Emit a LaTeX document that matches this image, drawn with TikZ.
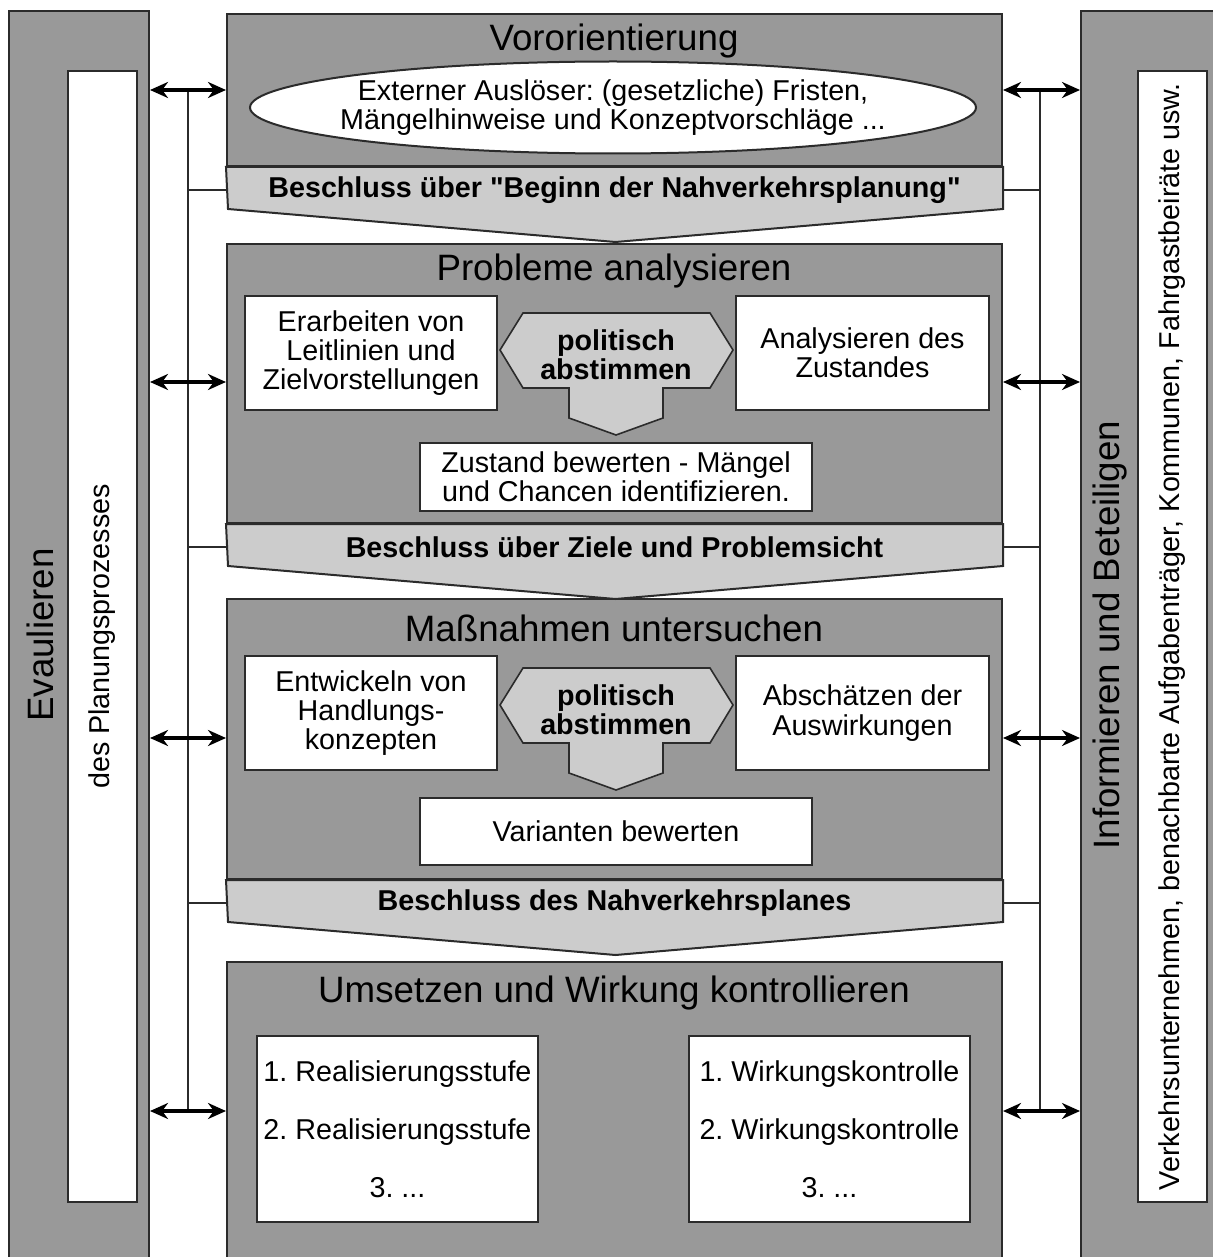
\documentclass[tikz,border=0pt]{standalone}
\usepackage{fontspec}
\setmainfont{Liberation Sans}
\usetikzlibrary{arrows.meta,shapes.geometric}
\definecolor{midgrey}{HTML}{999999}
\definecolor{lightgrey}{HTML}{CCCCCC}
\definecolor{edge}{HTML}{2B2B2B}
\frenchspacing

\begin{document}
\begin{tikzpicture}[x=0.5pt,y=-0.5pt,
  txt/.style={font=\fontsize{14.35}{14.6}\selectfont,align=center},
  bold/.style={font=\fontsize{14.35}{14.6}\selectfont\bfseries,align=center},
  head/.style={font=\fontsize{18.35}{20}\selectfont},
  bar/.style={draw=edge,line width=1pt,fill=midgrey,anchor=north west,inner sep=0pt},
  strip/.style={draw=edge,line width=1pt,fill=white,anchor=north west,inner sep=0pt},
  phase/.style={draw=edge,line width=1pt,fill=midgrey,anchor=north west,inner sep=0pt,minimum width=387.5pt},
  band/.style={draw=edge,line width=1pt,fill=lightgrey},
  box/.style={txt,draw=edge,line width=1pt,fill=white,inner sep=0pt},
  hexa/.style={draw=edge,line width=0.8pt,fill=lightgrey},
  link/.style={draw=edge,line width=1pt},
  dbl/.style={{Stealth[length=9pt,width=8pt]}-{Stealth[length=9pt,width=8pt]},line width=1.8pt,black}]
\useasboundingbox (0,0) rectangle (1213,1257);
\clip (0,0) rectangle (1213,1257);

\node[bar,minimum width=70pt,minimum height=640pt] (evalbar) at (8,10) {};
\node[strip,minimum width=34.5pt,minimum height=565.5pt] (evalstrip) at (67,70) {};
\node[head,rotate=90] (evaltitle) at (40,635) {Evaulieren};
\node[txt,rotate=90] (evaltext) at (evalstrip.center) {des Planungsprozesses};

\node[bar,minimum width=80pt,minimum height=640pt] (infobar) at (1080,10) {};
\node[strip,minimum width=34.5pt,minimum height=565.5pt] (infostrip) at (1137,70) {};
\node[head,rotate=90] (infotitle) at (1110,635) {Informieren und Beteiligen};
\node[txt,rotate=90] (infotext) at (infostrip.center)
  {Verkehrsunternehmen, benachbarte Aufgabenträger, Kommunen, Fahrgastbeiräte usw.};

\node[phase,minimum height=76pt] (vor) at (226,13) {};
\node[phase,minimum height=139.5pt] (prob) at (226,243) {};
\node[phase,minimum height=140pt] (mass) at (226,598) {};
\node[phase,minimum height=160pt] (ums) at (226,961) {};

\foreach \p/\n/\t in {vor/bes1/{Beschluss über \textquotedbl Beginn der Nahverkehrsplanung\textquotedbl},
    prob/bes2/{Beschluss über Ziele und Problemsicht},
    mass/bes3/{Beschluss des Nahverkehrsplanes}} {
  \draw[band] (\p.south west) -- (\p.south east) -- ++(0,42) -- ++(-387.5,33)
    -- ++(-387.5,-33) -- cycle;
  \node[bold] (\n) at ([yshift=-11.5pt]\p.south) {\t};
}

\node[head] (vortitle) at (614,41) {Vororientierung};
\node[head] (probtitle) at (614,271) {Probleme analysieren};
\node[head] (masstitle) at (614,628) {Maßnahmen untersuchen};
\node[head] (umstitle) at (614,993) {Umsetzen und Wirkung kontrollieren};

\node[ellipse,draw=edge,line width=1pt,fill=white,minimum width=363pt,
  minimum height=46pt,inner sep=0pt] (trig) at (613,107.5) {};
\node[txt] (trigtext) at (trig.center)
  {Externer Auslöser: (gesetzliche) Fristen,\\Mängelhinweise und Konzeptvorschläge ...};

\foreach \n/\y in {pola/350,polb/705} {
  \draw[hexa] (500,\y) -- (523,\y-37) -- (710,\y-37) -- (733,\y) -- (710,\y+38)
    -- (663,\y+38) -- (663,\y+68) -- (616,\y+85) -- (569,\y+68) -- (569,\y+38)
    -- (523,\y+38) -- cycle;
  \node[bold] (\n) at (616,\y+5) {politisch\\abstimmen};
}

\node[box,minimum width=126pt,minimum height=57pt] (leit) at (371,353)
  {Erarbeiten von\\Leitlinien und\\Zielvorstellungen};
\node[box,minimum width=126.5pt,minimum height=57pt] (zust) at (862.5,353)
  {Analysieren des\\Zustandes};
\node[box,minimum width=196pt,minimum height=34pt] (bewert) at (616,477)
  {Zustand bewerten - Mängel\\und Chancen identifizieren.};

\node[box,minimum width=126pt,minimum height=57pt] (hand) at (371,713)
  {Entwickeln von\\Handlungs-\\konzepten};
\node[box,minimum width=126.5pt,minimum height=57pt] (ausw) at (862.5,713)
  {Abschätzen der\\Auswirkungen};
\node[box,minimum width=196pt,minimum height=33.5pt] (var) at (616,831.5)
  {Varianten bewerten};

\node[box,font=\fontsize{14.35}{29}\selectfont,minimum width=140.5pt,minimum height=93pt]
  (real) at (397.5,1129) {1. Realisierungsstufe\\2. Realisierungsstufe\\3. ...};
\node[box,font=\fontsize{14.35}{29}\selectfont,minimum width=140.5pt,minimum height=93pt]
  (wirk) at (829.5,1129) {1. Wirkungskontrolle\\2. Wirkungskontrolle\\3. ...};

\foreach \y [count=\i] in {90,382,738,1111} {
  \coordinate (la\i) at (188,\y);
  \coordinate (ra\i) at (1040,\y);
}
\draw[link] (la1) -- (la4);
\draw[link] (ra1) -- (ra4);
\foreach \n in {bes1,bes2,bes3} {
  \draw[link] (la1 |- \n) -- (vor.west |- \n);
  \draw[link] (vor.east |- \n) -- (ra1 |- \n);
}
\foreach \p [count=\i] in {vor,prob,mass,ums} {
  \draw[dbl] (evalbar.east |- la\i) -- (\p.west |- la\i);
  \draw[dbl] (\p.east |- ra\i) -- (infobar.west |- ra\i);
}
\end{tikzpicture}
\end{document}
